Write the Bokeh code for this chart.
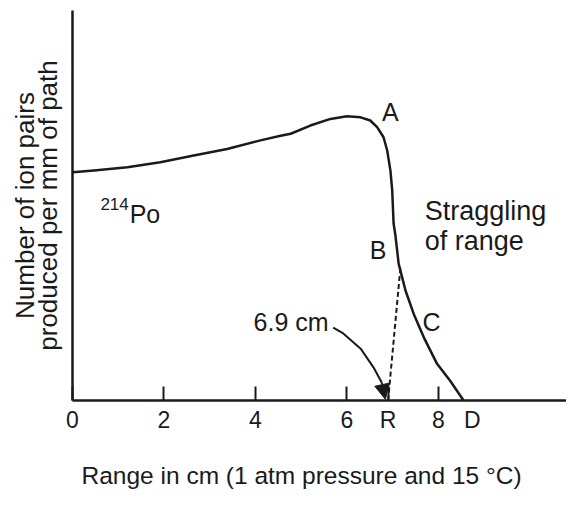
import math
from bokeh.plotting import figure
from bokeh.models import FixedTicker, Arrow, NormalHead, ColumnDataSource, Range1d, Title
from bokeh.core.properties import value
from bokeh.embed import file_html
from bokeh.resources import INLINE

# ---- data (range in cm, ionisation in arbitrary units 0..100) ----
range_cm = [0, 0.47, 1.20, 1.92, 2.65, 3.38, 4.11, 4.55, 4.77, 5.20, 5.64, 6.00, 6.30, 6.51,
            6.66, 6.80, 6.88, 6.95, 6.99, 7.02, 7.06, 7.13, 7.28, 7.46, 7.68, 7.97, 8.26, 8.55]
ion_pairs = [58.5, 59.0, 59.8, 61.1, 62.8, 64.5, 66.7, 67.9, 68.4, 70.5, 72.2, 72.9, 72.6, 71.8,
             70.1, 67.5, 64.1, 59.0, 53.8, 45.4, 42.3, 35.1, 28.2, 22.2, 16.2, 9.4, 5.0, 0.0]

# labelled positions on the range axis (D has a label but no tick mark)
label_ticks = [0, 2, 4, 6, 6.9, 8, 8.74]
tick_marks = [0, 2, 4, 6, 6.9, 8]
tick_overrides = {6.9: "R", 8.74: "D"}

# dashed line from R up to B
dash_x = [6.9, 7.17]
dash_y = [0.0, 34.2]

# arrow from the "6.9 cm" label to R
arrow_x = [5.70, 5.92, 6.30, 6.58, 6.76]
arrow_y = [18.7, 17.2, 13.3, 8.5, 4.6]
arrow_tip = (6.84, 0.3)

# point labels
pt_labels = ["A", "B", "C"]
pt_x = [6.95, 6.68, 7.85]
pt_y = [74.1, 38.7, 20.2]

FONT = "Liberation Sans"
INK = "#1a1a1a"

p = figure(width=566, height=500, x_range=Range1d(0, 10.80), y_range=Range1d(0, 100),
           output_backend="svg", toolbar_location=None,
           min_border_left=72, min_border_right=0, min_border_top=10, min_border_bottom=100)
p.grid.visible = False
p.outline_line_color = None
p.background_fill_color = "white"
p.border_fill_color = "white"

# x axis: labels from major ticks, tick marks drawn as minor ticks
xa = p.xaxis[0]
xa.ticker = FixedTicker(ticks=label_ticks, minor_ticks=tick_marks)
xa.major_label_overrides = tick_overrides
xa.major_tick_in = 0
xa.major_tick_out = 0
xa.major_tick_line_color = None
xa.minor_tick_in = 14
xa.minor_tick_out = 0
xa.minor_tick_line_width = 2
xa.minor_tick_line_color = INK
xa.axis_line_width = 2.5
xa.axis_line_color = INK
xa.major_label_text_font = FONT
xa.major_label_text_font_size = "23px"
xa.major_label_text_color = INK
xa.major_label_standoff = 6

# spacer + x-axis title
p.add_layout(Title(text=" ", text_font_size="7px"), "below")
p.add_layout(Title(text="Range in cm (1 atm pressure and 15 °C)", align="left", offset=9,
                   text_font=FONT, text_font_size="24.5px", text_font_style="normal",
                   text_color=INK), "below")

# y axis
ya = p.yaxis[0]
ya.ticker = FixedTicker(ticks=[])
ya.major_label_text_font_size = "0px"
ya.minor_tick_line_color = None
ya.axis_line_width = 2.5
ya.axis_line_color = INK
ya.axis_label = "Number of ion pairs\nproduced per mm of path"
ya.axis_label_text_font = FONT
ya.axis_label_text_font_size = "26px"
ya.axis_label_text_font_style = "normal"
ya.axis_label_text_color = INK
ya.axis_label_text_line_height = 0.74
ya.axis_label_standoff = 10

# curve
p.line(range_cm, ion_pairs, line_width=2.5, line_color=INK, line_join="round")

# dashed line
p.line(dash_x, dash_y, line_width=2, line_color=INK, line_dash="5 3")

# arrow
p.line(arrow_x, arrow_y, line_width=2, line_color=INK, line_join="round")
p.add_layout(Arrow(end=NormalHead(size=15, fill_color=INK, line_color=INK, line_width=1),
                   x_start=arrow_x[-1], y_start=arrow_y[-1], x_end=arrow_tip[0], y_end=arrow_tip[1],
                   line_width=2, line_color=INK))

# A, B, C
src = ColumnDataSource(dict(x=pt_x, y=pt_y, t=pt_labels))
p.text(x="x", y="y", text="t", source=src, text_font=value(FONT), text_font_size="25px",
       text_color=INK, text_align="center", text_baseline="alphabetic")

def txt(x, y, s, size, align="left", baseline="alphabetic"):
    p.text(x=[x], y=[y], text=[s], text_font=value(FONT), text_font_size=size,
           text_color=INK, text_align=align, text_baseline=baseline)

txt(7.7, 48.7, "Straggling", "27px")
txt(7.7, 41.0, "of range", "27px")
txt(5.6, 20.2, "6.9 cm", "25px", align="right")
txt(0.61, 50.5, "214", "17px")
txt(1.25, 47.7, "Po", "25px")

open("out.html", "w").write(file_html(p, INLINE))
